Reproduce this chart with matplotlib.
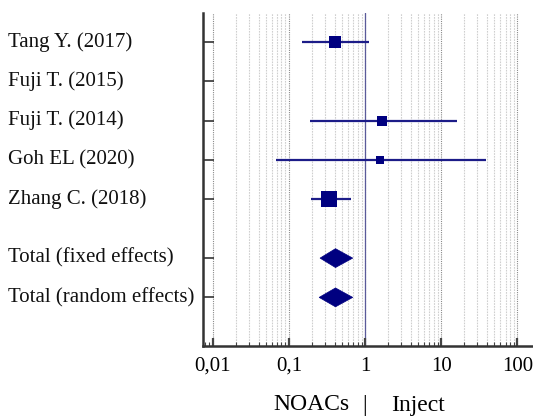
import matplotlib
matplotlib.use("Agg")
import matplotlib.pyplot as plt
import numpy as np
from matplotlib.patches import Polygon
from matplotlib.transforms import blended_transform_factory
from matplotlib.ticker import LogLocator, FixedLocator, NullFormatter

plt.rcParams['font.family'] = ['Liberation Serif', 'DejaVu Serif']

# Individual studies: odds ratio with 95% CI, and relative weight (%)
studies = ["Tang Y. (2017)", "Fuji T. (2015)", "Fuji T. (2014)", "Goh EL (2020)", "Zhang C. (2018)"]
study_or = [0.40, np.nan, 1.69, 1.59, 0.34]
study_lo = [0.15, np.nan, 0.19, 0.067, 0.195]
study_hi = [1.12, np.nan, 16.0, 38.4, 0.65]
study_weight = [28.5, np.nan, 14.5, 10.0, 47.0]

# Pooled estimates
pooled = ["Total (fixed effects)", "Total (random effects)"]
pooled_or = [0.41, 0.41]
pooled_lo = [0.257, 0.25]
pooled_hi = [0.69, 0.69]

xtick_vals = [0.01, 0.1, 1, 10, 100]
xtick_labels = ["0,01", "0,1", "1", "10", "100"]

navy = "#000080"
FS = 15

fig = plt.figure(figsize=(5.33, 4.17), dpi=100)
W, H = 533, 417
ax = fig.add_axes([203 / W, 1 - 345.7 / H, 1 - 203 / W, (345.7 - 13) / H])

ax.set_xscale("log")
ax.set_xlim(10 ** -2.127, 10 ** 2.206)

study_y = list(range(len(studies)))
pooled_y = [len(studies) + 0.5, len(studies) + 1.5]
ax.set_ylim(7.73, -0.74)

# Grid lines: every minor position light, decades darker
for dec in [0.01, 0.1, 1, 10]:
    for m in range(2, 10):
        ax.axvline(dec * m, color="#cfcfcf", lw=0.8, ls=(0, (1.5, 1)), zorder=0)
for v in xtick_vals:
    ax.axvline(v, color="#8a8a8a", lw=0.8, ls=(0, (1, 1)), zorder=0)

# Line of no effect
ax.axvline(1, color="#5a5a9a", lw=0.9, zorder=1)

# Study confidence intervals and weighted squares
for y, est, lo, hi, w in zip(study_y, study_or, study_lo, study_hi, study_weight):
    if np.isnan(est):
        continue
    ax.plot([lo, hi], [y, y], color="#1c1c88", lw=1.6, solid_capstyle="butt", zorder=2)
    side_px = 2.43 * np.sqrt(w)
    ax.plot([est], [y], marker="s", color=navy, markersize=side_px * 0.72,
            markeredgewidth=0, zorder=3)

# Pooled diamonds
half_h = 0.24
for y, est, lo, hi in zip(pooled_y, pooled_or, pooled_lo, pooled_hi):
    ax.add_patch(Polygon([[lo, y], [est, y - half_h], [hi, y], [est, y + half_h]],
                         closed=True, facecolor=navy, edgecolor=navy, lw=0.5, zorder=3))

# Axes styling
for s in ["top", "right"]:
    ax.spines[s].set_visible(False)
ax.spines["left"].set_linewidth(1.8)
ax.spines["left"].set_color("#333333")
ax.spines["bottom"].set_linewidth(1.8)
ax.spines["bottom"].set_color("#333333")

ax.set_yticks(study_y + pooled_y)
ax.set_yticklabels([])
ax.tick_params(axis="y", direction="in", length=8, width=1.2, color="#333333")

ax.xaxis.set_major_locator(FixedLocator(xtick_vals))
ax.set_xticklabels(xtick_labels, fontsize=FS)
ax.xaxis.set_minor_locator(LogLocator(base=10, subs=np.arange(2, 10), numticks=20))
ax.xaxis.set_minor_formatter(NullFormatter())
ax.tick_params(axis="x", which="major", direction="in", length=6, width=1.6,
               color="#444444", pad=8)
ax.tick_params(axis="x", which="minor", direction="in", length=3, width=0.8,
               color="#444444")

# Row labels, left-aligned at the figure edge
tr = blended_transform_factory(fig.transFigure, ax.transData)
for y, lab in zip(study_y + pooled_y, studies + pooled):
    ax.text(8 / W, y, lab, transform=tr, ha="left", va="center", fontsize=FS,
            color="#111111")

# Axis caption split around the line of no effect
CAP_FS = 17
cap_tr = blended_transform_factory(ax.transData, fig.transFigure)
cap_y = 1 - 405 / H
ax.annotate("NOACs", xy=(1, cap_y), xycoords=cap_tr, xytext=(-11.3, 0),
            textcoords="offset points", ha="right", va="center", fontsize=CAP_FS)
ax.annotate("|", xy=(1, cap_y), xycoords=cap_tr, ha="center", va="center", fontsize=CAP_FS)
ax.annotate("Inject", xy=(1, cap_y), xycoords=cap_tr, xytext=(18.7, 0),
            textcoords="offset points", ha="left", va="center", fontsize=CAP_FS)

fig.savefig("out.png", dpi=100)
